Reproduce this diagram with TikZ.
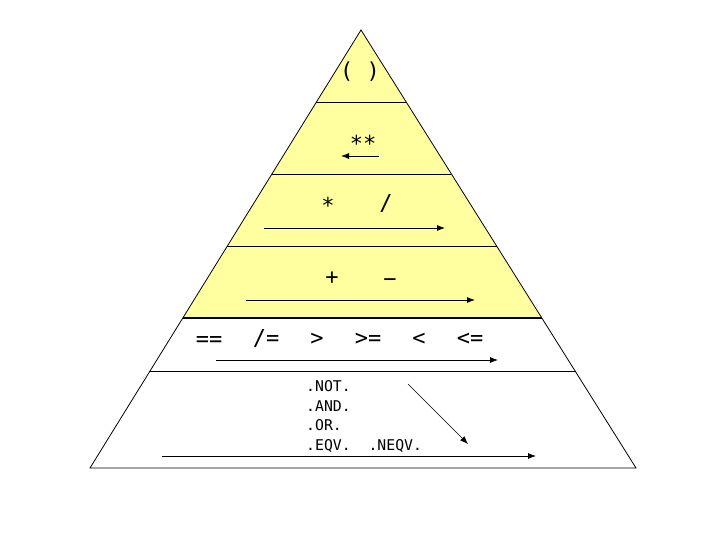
\documentclass[tikz,border=0pt]{standalone}
\usepackage{fontspec}
\setmonofont{DejaVu Sans Mono}
\usetikzlibrary{calc,arrows.meta}
\definecolor{pyryellow}{RGB}{255,255,160}
\tikzset{
  op/.style={font=\ttfamily\fontsize{22}{22}\selectfont, inner sep=0pt},
  lop/.style={font=\ttfamily\fontsize{14.8}{14.8}\selectfont, inner sep=0pt, anchor=west},
  dir/.style={-{Latex[length=8pt,width=6pt]}, line width=0.8pt}
}
\begin{document}
\begin{tikzpicture}[x=1pt,y=-1pt]
  \useasboundingbox (0,0) rectangle (720,540);
  % pyramid corners
  \coordinate (apex) at (361,30);
  \coordinate (bl) at (90,468);
  \coordinate (br) at (636,468);
  % levels
  \coordinate (l1) at ($(apex)!0.1644!(bl)$);  \coordinate (r1) at ($(apex)!0.1644!(br)$);
  \coordinate (l2) at ($(apex)!0.3288!(bl)$);  \coordinate (r2) at ($(apex)!0.3288!(br)$);
  \coordinate (l3) at ($(apex)!0.4932!(bl)$);  \coordinate (r3) at ($(apex)!0.4932!(br)$);
  \coordinate (l4) at ($(apex)!0.6575!(bl)$);  \coordinate (r4) at ($(apex)!0.6575!(br)$);
  \coordinate (l5) at ($(apex)!0.7808!(bl)$);  \coordinate (r5) at ($(apex)!0.7808!(br)$);
  \fill[pyryellow] (apex) -- (l4) -- (r4) -- cycle;
  \draw[line width=0.8pt] (apex) -- (bl) -- (br) -- cycle;
  \draw[line width=1pt] (l1) -- (r1);
  \draw[line width=1pt] (l2) -- (r2);
  \draw[line width=1pt] (l3) -- (r3);
  \draw[line width=2pt] (l4) -- (r4);
  \draw[line width=1pt] (l5) -- (r5);
  % parentheses
  \node[op] (paren) at (360,72) {( )};
  % power
  \node[op] (pow) at (363,143) {**};
  \coordinate (p1) at (379,156); \coordinate (p2) at (341,156);
  \draw[dir] (p1) -- (p2);
  % multiply, divide
  \node[op] (mul) at (328,205) {*};
  \node[op] (div) at (386,204) {/};
  \coordinate (m1) at (264,228); \coordinate (m2) at (445,228);
  \draw[dir] (m1) -- (m2);
  % add, subtract
  \node[op] (add) at (332,278) {+};
  \node[op] (sub) at (390,283) {−};
  \coordinate (a1) at (246,300); \coordinate (a2) at (475,300);
  \draw[dir] (a1) -- (a2);
  % relational
  \node[op] (eq) at (209,342) {==};
  \node[op] (ne) at (266,339) {/=};
  \node[op] (gt) at (317,339) {>};
  \node[op] (ge) at (368,339) {>=};
  \node[op] (lt) at (419,339) {<};
  \node[op] (le) at (470,339) {<=};
  \coordinate (r1s) at (216,360); \coordinate (r1e) at (498,360);
  \draw[dir] (r1s) -- (r1e);
  % logical
  \node[lop] (lnot) at (306,386.5) {.NOT.};
  \node[lop] (land) at (306,406.5) {.AND.};
  \node[lop] (lor) at (306,425.5) {.OR.};
  \node[lop] (leqv) at (306,446) {.EQV.\ \ .NEQV.};
  \coordinate (d1) at (408,384); \coordinate (d2) at (468,444);
  \draw[-{Latex[length=8pt,width=6pt]}, line width=0.5pt] (d1) -- (d2);
  \coordinate (g1) at (162,456); \coordinate (g2) at (536,456);
  \draw[dir] (g1) -- (g2);
\end{tikzpicture}
\end{document}
